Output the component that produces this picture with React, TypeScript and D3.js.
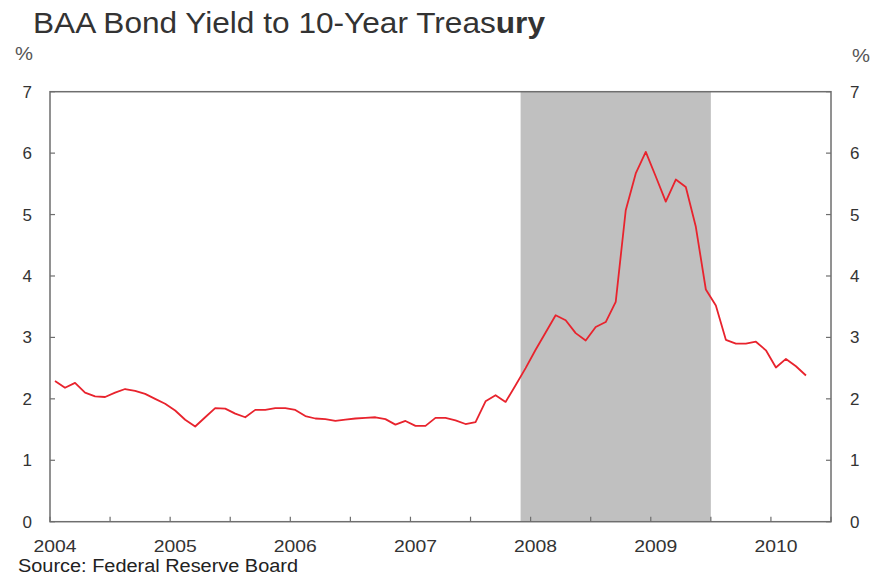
import React from "react";
import * as d3 from "d3";

const W = 881;
const H = 574;

const months2004 = [2.29, 2.18, 2.26, 2.10, 2.04, 2.03, 2.10, 2.16, 2.13, 2.08, 2.00, 1.92];
const months2005 = [1.81, 1.66, 1.55, 1.70, 1.85, 1.84, 1.76, 1.70, 1.82, 1.82, 1.85, 1.85];
const months2006 = [1.82, 1.72, 1.68, 1.67, 1.64, 1.66, 1.68, 1.69, 1.70, 1.67, 1.58, 1.64];
const months2007 = [1.56, 1.56, 1.69, 1.69, 1.65, 1.59, 1.62, 1.96, 2.06, 1.95, 2.22, 2.50];
const months2008 = [2.80, 3.08, 3.36, 3.28, 3.07, 2.95, 3.17, 3.25, 3.58, 5.07, 5.67, 6.02];
const months2009 = [5.62, 5.21, 5.57, 5.45, 4.80, 3.78, 3.52, 2.96, 2.90, 2.90, 2.93, 2.79];
const months2010 = [2.51, 2.65, 2.53, 2.38];

const spread = [
  ...months2004, ...months2005, ...months2006, ...months2007,
  ...months2008, ...months2009, ...months2010,
];
const startYear = 2004;

const yearTicks = [2004, 2005, 2006, 2007, 2008, 2009, 2010];
const halfYearTicks = [2004.5, 2005.5, 2006.5, 2007.5, 2008.5, 2009.5, 2010.5];
const yTicks = [0, 1, 2, 3, 4, 5, 6, 7];
const recession = [2007 + 11 / 12, 2009.5];

const margin = { left: 50, right: 50, top: 91.7, bottom: 52.3 };

export default function App() {
  const x = d3.scaleLinear().domain([2004, 2010.5]).range([margin.left, W - margin.right]);
  const y = d3.scaleLinear().domain([0, 7]).range([H - margin.bottom, margin.top]);
  const points: [number, number][] = spread.map((v, i) => [startYear + (i + 0.5) / 12, v]);
  const line = d3.line<[number, number]>().x((d) => x(d[0])).y((d) => y(d[1]));
  const x0 = x.range()[0];
  const x1 = x.range()[1];
  const y0 = y.range()[0];
  const y1 = y.range()[1];
  const axisColor = "#6e6e6e";
  const textColor = "#333333";
  const font = "'Liberation Sans', Arial, sans-serif";
  return (
    <svg width={W} height={H} style={{ position: "absolute", left: 0, top: 0 }} fontFamily={font}>
      <rect x={0} y={0} width={W} height={H} fill="#ffffff" />
      <text x={33} y={32.5} fontSize={29} fill="#333333" textLength={512} lengthAdjust="spacingAndGlyphs">
        BAA Bond Yield to 10-Year Treas<tspan fontWeight="bold">ury</tspan>
      </text>
      <rect x={x(recession[0])} y={y1} width={x(recession[1]) - x(recession[0])} height={y0 - y1} fill="#c0c0c0" />
      <path d={line(points) || ""} fill="none" stroke="#e8232d" strokeWidth={1.8} strokeLinejoin="round" />
      <rect x={x0} y={y1} width={x1 - x0} height={y0 - y1} fill="none" stroke={axisColor} strokeWidth={1.5} />
      {yTicks.map((t) => (
        <g key={"y" + t}>
          <line x1={x0} x2={x0 + 5} y1={y(t)} y2={y(t)} stroke={axisColor} strokeWidth={1.2} />
          <line x1={x1} x2={x1 - 5} y1={y(t)} y2={y(t)} stroke={axisColor} strokeWidth={1.2} />
          <text x={32} y={y(t) + 6} fontSize={17} textAnchor="end" fill={textColor}>{t}</text>
          <text x={850} y={y(t) + 6} fontSize={17} textAnchor="start" fill={textColor}>{t}</text>
        </g>
      ))}
      {[...yearTicks, ...halfYearTicks].map((t) => (
        <line key={"xt" + t} x1={x(t)} x2={x(t)} y1={y0} y2={y0 - 5} stroke={axisColor} strokeWidth={1.2} />
      ))}
      {yearTicks.map((t) => (
        <text key={"xl" + t} x={x(t) + 5} y={552} fontSize={17} textAnchor="middle" fill={textColor} textLength={43} lengthAdjust="spacingAndGlyphs">{t}</text>
      ))}
      <text x={15} y={60} fontSize={18} fill="#555555" textLength={18} lengthAdjust="spacingAndGlyphs">%</text>
      <text x={852} y={62} fontSize={18} fill="#555555" textLength={18} lengthAdjust="spacingAndGlyphs">%</text>
      <text x={18} y={571.5} fontSize={18} fill="#222222" textLength={280} lengthAdjust="spacingAndGlyphs">Source: Federal Reserve Board</text>
    </svg>
  );
}
